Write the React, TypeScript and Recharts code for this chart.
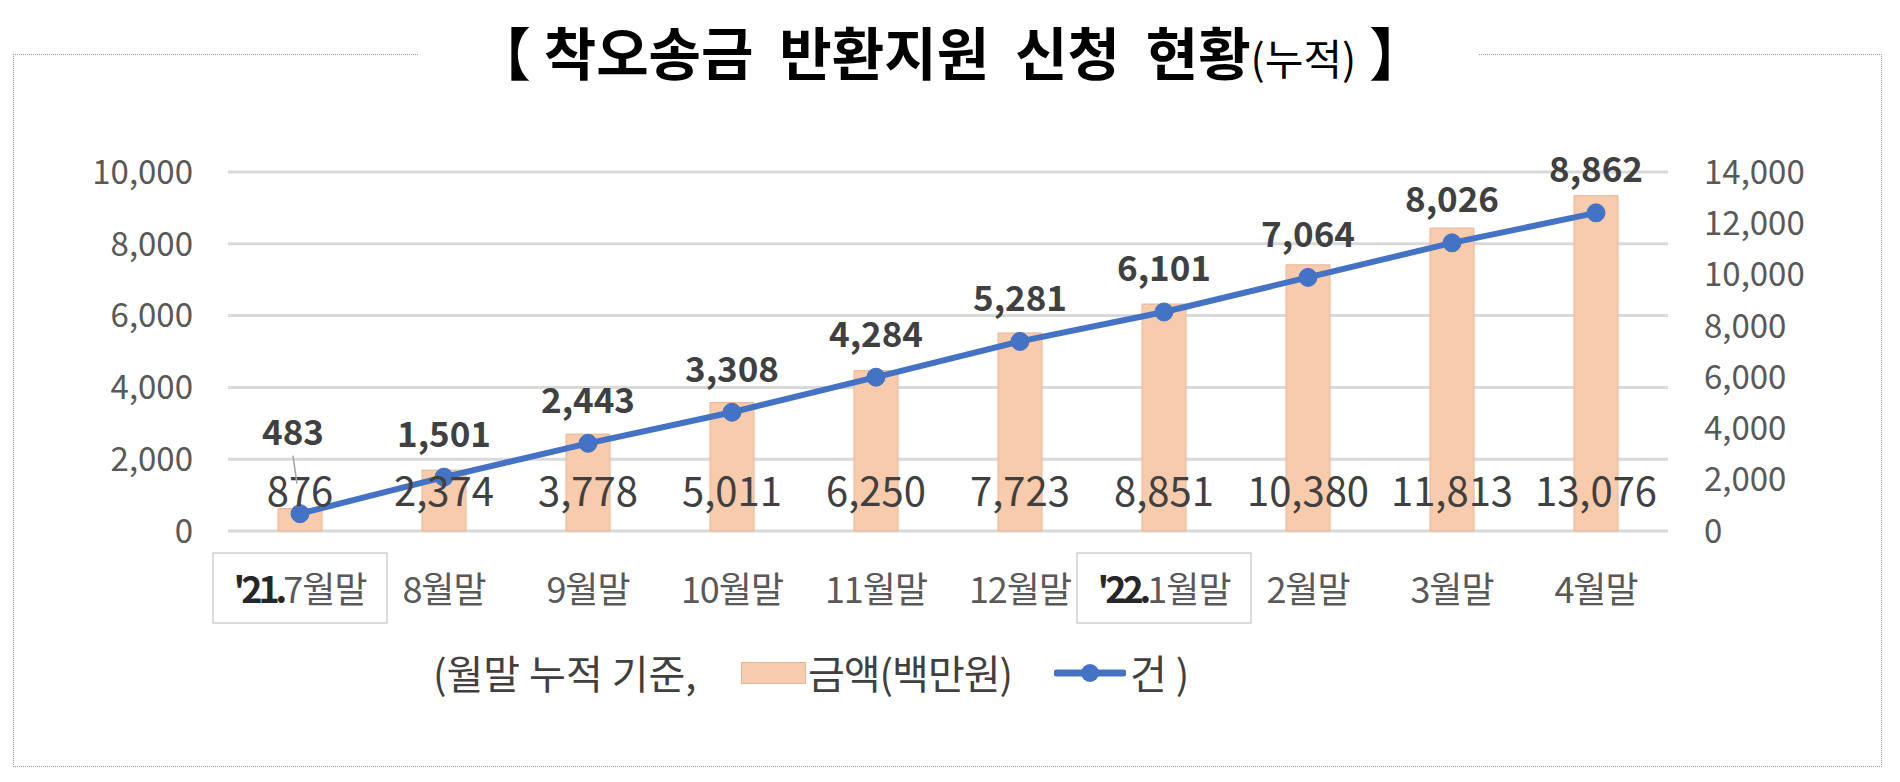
import React from 'react';
import {
  ComposedChart,
  Bar,
  Line,
  XAxis,
  YAxis,
  CartesianGrid,
  LabelList,
} from 'recharts';

// year prefix (bold, boxed) + month label
const yearPrefix = ["'21.", '', '', '', '', '', "'22.", '', '', ''];
const monthNames = ['7월말', '8월말', '9월말', '10월말', '11월말', '12월말', '1월말', '2월말', '3월말', '4월말'];
// 금액(백만원), right axis
const amounts = [876, 2374, 3778, 5011, 6250, 7723, 8851, 10380, 11813, 13076];
// 건, left axis
const counts = [483, 1501, 2443, 3308, 4284, 5281, 6101, 7064, 8026, 8862];

const leftTicks = [0, 2000, 4000, 6000, 8000, 10000];
const rightTicks = [0, 2000, 4000, 6000, 8000, 10000, 12000, 14000];

const data = monthNames.map((m, i) => ({
  month: yearPrefix[i] + m,
  prefix: yearPrefix[i],
  name: m,
  amount: amounts[i],
  count: counts[i],
}));

const FONT = "'Noto Sans CJK KR', 'Noto Sans', sans-serif";
const fmt = (v: number) => Number(v).toLocaleString('en-US');

const MonthTick = (props: any) => {
  const { x, y, index } = props;
  const d = data[index];
  const boxed = d.prefix !== '';
  return (
    <g>
      {boxed && (
        <rect x={x - 87} y={y + 22} width={174} height={70} fill="#fff" stroke="#d0d0d0" strokeWidth={1.5} />
      )}
      <text x={x} y={y + 56} textAnchor="middle" dominantBaseline="central" fontSize={36} fill="#595959" fontFamily={FONT}>
        {boxed && (
          <tspan fontWeight={700} fill="#262626" letterSpacing={-4}>
            {d.prefix}
          </tspan>
        )}
        <tspan letterSpacing={-1}>{d.name}</tspan>
      </text>
    </g>
  );
};

const AmountLabel = (props: any) => {
  const { x, y, width, height, value } = props;
  return (
    <text
      x={x + width / 2}
      y={y + height - 42}
      textAnchor="middle"
      dominantBaseline="central"
      fontSize={40}
      fill="#404040"
      fontFamily={FONT}
    >
      {fmt(value)}
    </text>
  );
};

const CountLabel = (props: any) => {
  const { x, y, value, index } = props;
  if (index === 0) {
    return (
      <g>
        <line x1={x - 7} y1={y - 58} x2={x - 3} y2={y - 30} stroke="#a6a6a6" strokeWidth={1.5} />
        <text x={x - 7} y={y - 84} textAnchor="middle" dominantBaseline="central" fontSize={35} fontWeight={700} fill="#404040" fontFamily={FONT}>
          {fmt(value)}
        </text>
      </g>
    );
  }
  return (
    <text x={x} y={y - 46} textAnchor="middle" dominantBaseline="central" fontSize={35} fontWeight={700} fill="#404040" fontFamily={FONT}>
      {fmt(value)}
    </text>
  );
};

const tickStyle = { fill: '#595959', fontSize: 33, fontFamily: FONT };

export default function App() {
  return (
    <div style={{ position: 'absolute', left: 0, top: 0, width: 1900, height: 782, background: '#fff', fontFamily: FONT }}>
      {/* dotted frame, broken by the title */}
      <div style={{ position: 'absolute', left: 13, top: 54, width: 1867, height: 711, border: '1.5px dotted #9a9a9a' }} />
      <div style={{ position: 'absolute', left: 418, top: 50, width: 1060, height: 8, background: '#fff' }} />
      <div
        style={{
          position: 'absolute',
          left: 0,
          top: 15,
          width: 1900,
          textAlign: 'center',
          fontSize: 57,
          fontWeight: 700,
          lineHeight: '70px',
          whiteSpace: 'pre',
          color: '#000',
        }}
      >
        {'【 착오송금  반환지원  신청  현황'}
        <span style={{ fontSize: 42, fontWeight: 400 }}>(누적)</span>
        {' 】'}
      </div>

      <div style={{ position: 'absolute', left: 0, top: 0 }}>
        <ComposedChart width={1900} height={782} data={data} margin={{ top: 172, right: 32, left: 0, bottom: 0 }}>
          <CartesianGrid yAxisId="left" vertical={false} stroke="#d9d9d9" strokeWidth={3} />
          <XAxis
            dataKey="month"
            height={251}
            axisLine={false}
            tickLine={false}
            tickSize={0}
            tickMargin={0}
            interval={0}
            tick={<MonthTick />}
          />
          <YAxis
            yAxisId="left"
            width={228}
            domain={[0, 10000]}
            ticks={leftTicks}
            interval={0}
            axisLine={false}
            tickLine={false}
            tickSize={0}
            tickMargin={35}
            tickFormatter={fmt}
            tick={tickStyle}
          />
          <YAxis
            yAxisId="right"
            orientation="right"
            width={200}
            domain={[0, 14000]}
            ticks={rightTicks}
            interval={0}
            axisLine={false}
            tickLine={false}
            tickSize={0}
            tickMargin={36}
            tickFormatter={fmt}
            tick={tickStyle}
          />
          <Bar yAxisId="right" dataKey="amount" barSize={44} fill="#f8cbad" stroke="#e6b596" strokeWidth={1} isAnimationActive={false}>
            <LabelList dataKey="amount" content={<AmountLabel />} />
          </Bar>
          <Line
            yAxisId="left"
            dataKey="count"
            stroke="#4472c4"
            strokeWidth={6}
            dot={{ r: 9, fill: '#4472c4', stroke: '#4472c4', strokeWidth: 1 }}
            label={<CountLabel />}
            isAnimationActive={false}
          />
        </ComposedChart>
      </div>

      {/* legend */}
      <div style={{ position: 'absolute', left: 0, top: 648, height: 48, fontSize: 40, lineHeight: '48px', color: '#404040', whiteSpace: 'pre' }}>
        <span style={{ position: 'absolute', left: 433 }}>(월말 누적 기준,</span>
        <span style={{ position: 'absolute', left: 741, top: 14, width: 65, height: 22, background: '#f8cbad', border: '1px solid #e6b596', boxSizing: 'border-box' }} />
        <span style={{ position: 'absolute', left: 808, letterSpacing: -1 }}>금액(백만원)</span>
        <svg style={{ position: 'absolute', left: 1054, top: 0 }} width={72} height={48}>
          <line x1={3} y1={25} x2={69} y2={25} stroke="#4472c4" strokeWidth={7} strokeLinecap="round" />
          <circle cx={36} cy={25} r={9} fill="#4472c4" />
        </svg>
        <span style={{ position: 'absolute', left: 1130 }}>건 )</span>
      </div>
    </div>
  );
}
